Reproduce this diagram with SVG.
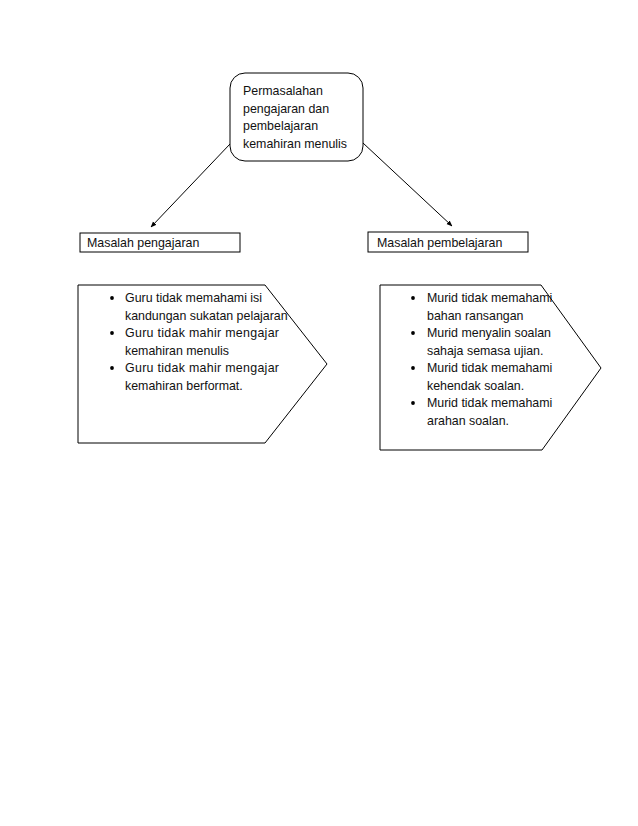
<svg xmlns="http://www.w3.org/2000/svg" width="638" height="826" viewBox="0 0 638 826">
<style>
text{font-family:"Liberation Sans",Arial,sans-serif;font-size:12.4px;fill:#111}
.shape{fill:#fff;stroke:#000;stroke-width:1}
.conn{stroke:#000;stroke-width:1;fill:none}
</style>
<defs>
<marker id="ah" viewBox="0 0 10 10" refX="9" refY="5" markerWidth="6" markerHeight="6" orient="auto" markerUnits="userSpaceOnUse">
<path d="M0,1 L10,5 L0,9 z" fill="#000"/>
</marker>
</defs>
<rect width="638" height="826" fill="#fff"/>
<g id="connectors">
<line class="conn" x1="230" y1="144" x2="151" y2="227" marker-end="url(#ah)"/>
<line class="conn" x1="363" y1="143" x2="452" y2="226" marker-end="url(#ah)"/>
</g>
<g id="root">
<rect class="shape" x="230" y="73" width="133" height="88" rx="15" ry="15"/>
<text x="243" y="95">Permasalahan</text>
<text x="243" y="113">pengajaran dan</text>
<text x="243" y="130">pembelajaran</text>
<text x="243" y="148">kemahiran menulis</text>
</g>
<g id="masalah-pengajaran">
<rect class="shape" x="80" y="233" width="160" height="19"/>
<text x="87" y="247">Masalah pengajaran</text>
</g>
<g id="masalah-pembelajaran">
<rect class="shape" x="368" y="232" width="160" height="20"/>
<text x="377" y="247">Masalah pembelajaran</text>
</g>
<g id="list-pengajaran">
<polygon class="shape" points="78,285 265,285 327,364 265,443 78,443"/>
<circle cx="112" cy="298" r="1.9"/>
<circle cx="112" cy="333" r="1.9"/>
<circle cx="112" cy="368" r="1.9"/>
<text x="125" y="302">Guru tidak memahami isi</text>
<text x="125" y="320">kandungan sukatan pelajaran</text>
<text x="125" y="337" textLength="154" lengthAdjust="spacing">Guru tidak mahir mengajar</text>
<text x="125" y="355">kemahiran menulis</text>
<text x="125" y="372" textLength="154" lengthAdjust="spacing">Guru tidak mahir mengajar</text>
<text x="125" y="390">kemahiran berformat.</text>
</g>
<g id="list-pembelajaran">
<polygon class="shape" points="380,285 541,285 601,368 542,450 380,450"/>
<circle cx="413" cy="298" r="1.9"/>
<circle cx="413" cy="333" r="1.9"/>
<circle cx="413" cy="368" r="1.9"/>
<circle cx="413" cy="403" r="1.9"/>
<text x="427" y="302">Murid tidak memahami</text>
<text x="427" y="320">bahan ransangan</text>
<text x="427" y="337">Murid menyalin soalan</text>
<text x="427" y="355">sahaja semasa ujian.</text>
<text x="427" y="372">Murid tidak memahami</text>
<text x="427" y="390">kehendak soalan.</text>
<text x="427" y="407">Murid tidak memahami</text>
<text x="427" y="425">arahan soalan.</text>
</g>
</svg>
